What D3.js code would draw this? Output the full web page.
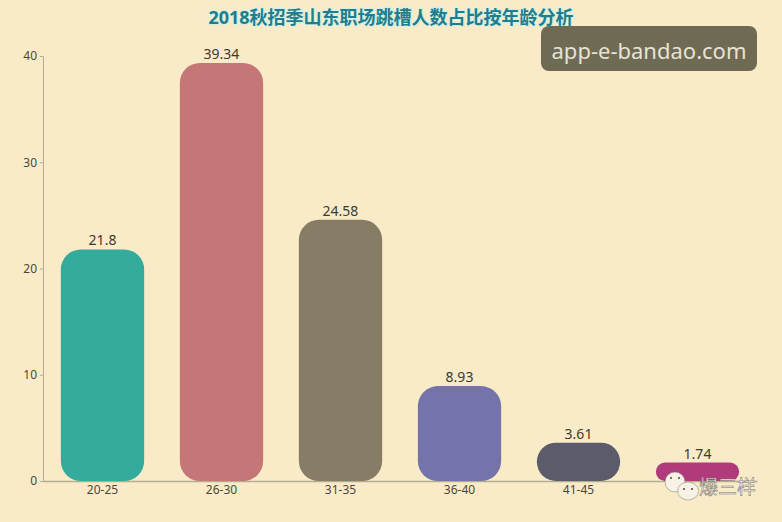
<!DOCTYPE html>
<html>
<head>
<meta charset="utf-8">
<script src="https://d3js.org/d3.v7.min.js"></script>
<style>
body { margin: 0; background: #f9ebc8; }
text { font-family: "Noto Sans", "Noto Sans CJK SC", sans-serif; }
</style>
</head>
<body>
<div id="chart"></div>
<script>
const ages = ["20-25", "26-30", "31-35", "36-40", "41-45", "46-50"];
const shares = [21.8, 39.34, 24.58, 8.93, 3.61, 1.74];
const shareLabels = ["21.8", "39.34", "24.58", "8.93", "3.61", "1.74"];
const barColors = ["#35ab9d", "#c57676", "#877c66", "#7474ab", "#5c5b6b", "#b03a7c"];
const yTicks = [0, 10, 20, 30, 40];

const svg = d3.select("#chart").append("svg")
    .attr("width", 782)
    .attr("height", 522)
    .style("display", "block");

svg.append("rect").attr("width", 782).attr("height", 522).attr("fill", "#f9ebc8");

const x = d3.scaleBand().domain(ages).range([43, 757]).paddingInner(0.3).paddingOuter(0.15);
const y = d3.scaleLinear().domain([0, 40]).range([481, 56]);

// axes
const yAxis = svg.append("g")
    .attr("transform", "translate(43,0)")
    .call(d3.axisLeft(y).tickValues(yTicks).tickSize(3).tickPadding(3));
yAxis.select(".domain").attr("stroke", "#b4ad91");
yAxis.selectAll("line").attr("stroke", "#b4ad91");
yAxis.selectAll("text").attr("font-size", 12).attr("fill", "#4d473a");

const xAxis = svg.append("g")
    .attr("transform", "translate(0,481)")
    .call(d3.axisBottom(x).tickSize(0).tickPadding(4));
xAxis.select(".domain").attr("stroke", "#b4ad91").attr("stroke-width", 1.5);
xAxis.selectAll("text").attr("font-size", 12).attr("fill", "#4d473a");

// the last age label is hidden behind the watermark in the source
xAxis.selectAll(".tick").filter(d => d === "46-50").select("text").remove();

// bars
svg.selectAll(".bar")
    .data(ages)
    .join("rect")
    .attr("class", "bar")
    .attr("x", d => x(d))
    .attr("width", x.bandwidth())
    .attr("y", (d, i) => y(shares[i]))
    .attr("height", (d, i) => y(0) - y(shares[i]))
    .attr("rx", (d, i) => Math.min(20, (y(0) - y(shares[i])) / 2))
    .attr("fill", (d, i) => barColors[i]);

svg.selectAll(".barLabel")
    .data(ages)
    .join("text")
    .attr("class", "barLabel")
    .attr("x", d => x(d) + x.bandwidth() / 2)
    .attr("y", (d, i) => y(shares[i]) - 4)
    .attr("text-anchor", "middle")
    .attr("font-size", 14)
    .attr("fill", "#3f3a2e")
    .text((d, i) => shareLabels[i]);

svg.append("text")
    .attr("x", 391)
    .attr("y", 24)
    .attr("text-anchor", "middle")
    .attr("font-size", 18)
    .attr("font-weight", "bold")
    .attr("fill", "#1f7d8c")
    .attr("stroke", "#d3efe6")
    .attr("stroke-width", 2)
    .attr("paint-order", "stroke")
    .text("2018秋招季山东职场跳槽人数占比按年龄分析");

// site badge
svg.append("rect")
    .attr("x", 541).attr("y", 26)
    .attr("width", 216).attr("height", 45)
    .attr("rx", 8)
    .attr("fill", "#6f6a54");
svg.append("text")
    .attr("x", 649).attr("y", 59)
    .attr("text-anchor", "middle")
    .attr("font-size", 22)
    .attr("fill", "#e6e3d6")
    .text("app-e-bandao.com");

// wechat watermark
const mark = svg.append("g");
mark.append("ellipse").attr("cx", 675).attr("cy", 482).attr("rx", 10).attr("ry", 10)
    .attr("fill", "#f7f1e6").attr("stroke", "#8d8a80").attr("stroke-width", 0.6);
mark.append("ellipse").attr("cx", 688).attr("cy", 491).attr("rx", 10.5).attr("ry", 9)
    .attr("fill", "#f7f1e6").attr("stroke", "#8d8a80").attr("stroke-width", 0.6);
mark.append("circle").attr("cx", 671).attr("cy", 478).attr("r", 1).attr("fill", "#4d473a");
mark.append("circle").attr("cx", 679).attr("cy", 478).attr("r", 1).attr("fill", "#4d473a");
mark.append("circle").attr("cx", 684).attr("cy", 489).attr("r", 1).attr("fill", "#4d473a");
mark.append("circle").attr("cx", 692).attr("cy", 489).attr("r", 1).attr("fill", "#4d473a");
mark.append("text")
    .attr("x", 699).attr("y", 494)
    .attr("font-size", 19)
    .attr("fill", "#f7f1e6")
    .attr("stroke", "#77736a")
    .attr("stroke-width", 0.5)
    .text("爆三样");
</script>
</body>
</html>
